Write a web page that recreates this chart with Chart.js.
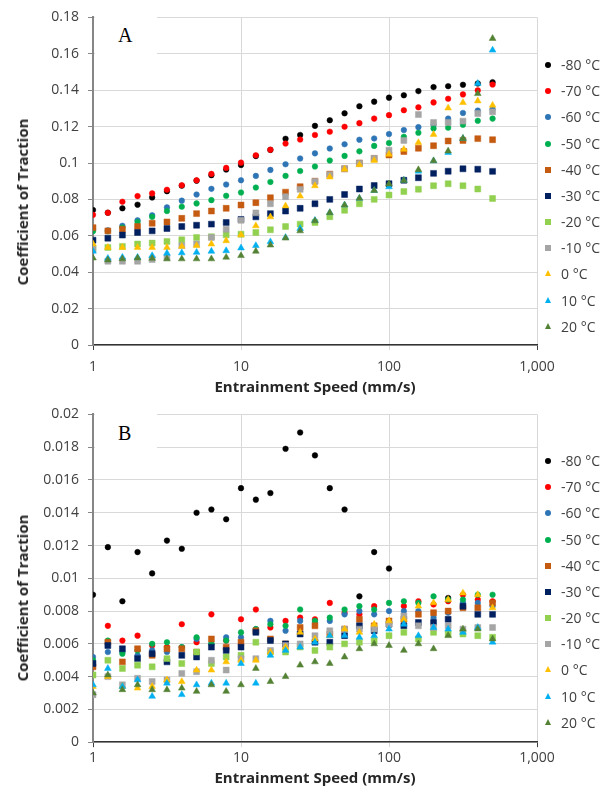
<!DOCTYPE html>
<html>
<head>
<meta charset="utf-8">
<script src="https://cdn.jsdelivr.net/npm/chart.js@4.4.1/dist/chart.umd.min.js"></script>
<style>
    body { margin: 0; background: #fff; font-family: 'Open Sans', sans-serif; }
    .panel { position: absolute; left: 0; width: 612px; height: 397px; }
    .panel canvas { position: absolute; left: 0; top: 0; }
    .tag { position: absolute; left: 95px; top: 3px; width: 62px; height: 52px; background: #fff; }
    .tag span { position: absolute; left: 23px; font-family: 'Liberation Serif', serif; font-size: 20px; line-height: 20px; color: #000; }
    .ytitle { position: absolute; left: 22px; font-size: 15px; font-weight: bold; line-height: 18px; color: #262626;
              white-space: nowrap; transform: translate(-50%, -50%) rotate(-90deg); }
    .legend-row { position: absolute; left: 540px; height: 18px; width: 72px; }
    .legend-row .mk { position: absolute; top: 6px; left: 5px; }
    .legend-row .txt { position: absolute; left: 21px; top: 0; font-size: 14px; line-height: 18px; color: #404040; white-space: nowrap; }
</style>
</head>
<body>
<div class="panel" id="panelA" style="top:0">
    <canvas id="chartA" width="612" height="397"></canvas>
    <div class="tag"><span style="top:22px">A</span></div>
    <div class="ytitle" style="top:202px">Coefficient of Traction</div>
</div>
<div class="panel" id="panelB" style="top:397px">
    <canvas id="chartB" width="612" height="397"></canvas>
    <div class="tag"><span style="top:23px">B</span></div>
    <div class="ytitle" style="top:201px">Coefficient of Traction</div>
</div>
<script>
// entrainment speed, mm/s
const speeds = [1, 1.26, 1.58, 2, 2.51, 3.16, 3.98, 5.01, 6.31, 7.94,
    10, 12.6, 15.8, 20, 25.1, 31.6, 39.8, 50.1, 63.1, 79.4,
    100, 126, 158, 200, 251, 316, 398, 501];

const seriesNames = ['-80 °C', '-70 °C', '-60 °C', '-50 °C', '-40 °C', '-30 °C',
    '-20 °C', '-10 °C', '0 °C', '10 °C', '20 °C'];

const xTicks = [1, 10, 100, 1000];
const yTicksA = [0, 0.02, 0.04, 0.06, 0.08, 0.1, 0.12, 0.14, 0.16, 0.18];
const yTicksB = [0, 0.002, 0.004, 0.006, 0.008, 0.01, 0.012, 0.014, 0.016, 0.018, 0.02];

// panel A
const cofA_m80 = [0.0742, 0.0727, 0.0751, 0.0771, 0.0811, 0.0845, 0.0875, 0.0903, 0.0933, 0.0964, 0.0989, 0.1038, 0.1072, 0.1133, 0.1154, 0.1204, 0.1235, 0.1273, 0.1312, 0.1337, 0.1359, 0.1372, 0.1395, 0.1417, 0.1422, 0.1430, 0.1437, 0.1444];
const cofA_m70 = [0.0715, 0.0727, 0.0787, 0.0818, 0.0833, 0.0853, 0.0878, 0.0905, 0.0940, 0.0973, 0.1002, 0.1042, 0.1073, 0.1107, 0.1129, 0.1154, 0.1172, 0.1199, 0.1219, 0.1244, 0.1263, 0.1290, 0.1306, 0.1333, 0.1353, 0.1377, 0.1399, 0.1431];
const cofA_m60 = [0.0635, 0.0630, 0.0655, 0.0685, 0.0713, 0.0756, 0.0793, 0.0827, 0.0858, 0.0882, 0.0905, 0.0929, 0.0962, 0.0993, 0.1025, 0.1053, 0.1080, 0.1103, 0.1128, 0.1135, 0.1159, 0.1181, 0.1197, 0.1210, 0.1244, 0.1275, 0.1288, 0.1295];
const cofA_m50 = [0.0625, 0.0625, 0.0645, 0.0676, 0.0704, 0.0736, 0.0760, 0.0778, 0.0796, 0.0820, 0.0838, 0.0865, 0.0896, 0.0929, 0.0956, 0.0981, 0.1014, 0.1039, 0.1064, 0.1094, 0.1110, 0.1144, 0.1166, 0.1190, 0.1194, 0.1210, 0.1232, 0.1244];
const cofA_m40 = [0.0645, 0.0627, 0.0636, 0.0651, 0.0669, 0.0676, 0.0696, 0.0722, 0.0736, 0.0751, 0.0769, 0.0782, 0.0809, 0.0840, 0.0870, 0.0900, 0.0939, 0.0968, 0.1000, 0.1025, 0.1044, 0.1063, 0.1081, 0.1095, 0.1121, 0.1124, 0.1134, 0.1128];
const cofA_m30 = [0.0576, 0.0587, 0.0604, 0.0618, 0.0627, 0.0640, 0.0651, 0.0658, 0.0664, 0.0673, 0.0690, 0.0704, 0.0722, 0.0736, 0.0751, 0.0776, 0.0800, 0.0827, 0.0857, 0.0876, 0.0886, 0.0905, 0.0919, 0.0943, 0.0955, 0.0968, 0.0966, 0.0954];
const cofA_m20 = [0.0530, 0.0536, 0.0542, 0.0555, 0.0560, 0.0569, 0.0578, 0.0591, 0.0595, 0.0605, 0.0609, 0.0618, 0.0633, 0.0651, 0.0664, 0.0673, 0.0705, 0.0740, 0.0776, 0.0800, 0.0824, 0.0843, 0.0856, 0.0875, 0.0886, 0.0875, 0.0857, 0.0805];
const cofA_m10 = [0.0527, 0.0460, 0.0460, 0.0460, 0.0470, 0.0480, 0.0546, 0.0555, 0.0591, 0.0636, 0.0685, 0.0726, 0.0776, 0.0815, 0.0855, 0.0899, 0.0935, 0.0968, 0.0999, 0.1026, 0.1070, 0.1124, 0.1266, 0.1223, 0.1223, 0.1230, 0.1272, 0.1281];
const cofA_0 = [0.0555, 0.0536, 0.0536, 0.0536, 0.0536, 0.0536, 0.0542, 0.0546, 0.0555, 0.0573, 0.0605, 0.0655, 0.0704, 0.0764, 0.0818, 0.0875, 0.0923, 0.0966, 0.0990, 0.1014, 0.1048, 0.1075, 0.1112, 0.1157, 0.1302, 0.1332, 0.1341, 0.1317];
const cofA_10 = [0.0515, 0.0476, 0.0482, 0.0482, 0.0491, 0.0504, 0.0506, 0.0509, 0.0515, 0.0518, 0.0533, 0.0546, 0.0567, 0.0591, 0.0640, 0.0685, 0.0727, 0.0769, 0.0806, 0.0849, 0.0869, 0.0905, 0.0955, 0.1012, 0.1057, 0.1135, 0.1437, 0.1620];
const cofA_20 = [0.0478, 0.0467, 0.0473, 0.0478, 0.0476, 0.0473, 0.0473, 0.0473, 0.0473, 0.0482, 0.0491, 0.0515, 0.0549, 0.0587, 0.0627, 0.0682, 0.0727, 0.0769, 0.0806, 0.0849, 0.0885, 0.0904, 0.0963, 0.1012, 0.1066, 0.1135, 0.1381, 0.1684];

// panel B
const cofB_m80 = [0.0090, 0.0119, 0.0086, 0.0116, 0.0103, 0.0123, 0.0118, 0.0140, 0.0142, 0.0136, 0.0155, 0.0148, 0.0152, 0.0179, 0.0189, 0.0175, 0.0155, 0.0142, 0.0089, 0.0116, 0.0106, null, null, null, 0.0088, null, null, null];
const cofB_m70 = [null, 0.0071, 0.0062, 0.0065, 0.0059, 0.0058, 0.0072, 0.0061, 0.0078, 0.0062, 0.0075, 0.0081, 0.0070, 0.0074, 0.0076, 0.0075, 0.0085, 0.0079, 0.0078, 0.0083, null, 0.0083, 0.0086, 0.0084, 0.0086, 0.0090, 0.0087, 0.0086];
const cofB_m60 = [0.0052, 0.0055, 0.0055, 0.0053, 0.0056, 0.0055, 0.0058, 0.0063, 0.0060, 0.0064, 0.0064, 0.0069, 0.0074, 0.0068, 0.0074, 0.0073, 0.0074, 0.0078, 0.0080, 0.0078, 0.0080, 0.0080, 0.0080, 0.0076, 0.0079, 0.0085, 0.0085, 0.0083];
const cofB_m50 = [0.0050, 0.0062, 0.0054, 0.0056, 0.0060, 0.0061, 0.0058, 0.0064, 0.0060, 0.0062, 0.0067, 0.0069, 0.0072, 0.0071, 0.0081, 0.0074, 0.0076, 0.0081, 0.0083, 0.0081, 0.0085, 0.0086, 0.0085, 0.0089, 0.0087, 0.0087, 0.0090, 0.0090];
const cofB_m40 = [0.0046, 0.0061, 0.0049, 0.0057, 0.0053, 0.0057, 0.0057, 0.0055, 0.0063, 0.0058, 0.0061, 0.0068, 0.0063, 0.0060, 0.0070, 0.0071, 0.0066, 0.0069, 0.0075, 0.0071, 0.0074, 0.0075, 0.0078, 0.0079, 0.0080, 0.0082, 0.0082, 0.0085];
const cofB_m30 = [0.0048, 0.0059, 0.0057, 0.0051, 0.0054, 0.0049, 0.0053, 0.0052, 0.0058, 0.0056, 0.0058, 0.0067, 0.0062, 0.0060, 0.0066, 0.0061, 0.0061, 0.0065, 0.0071, 0.0068, 0.0072, 0.0071, 0.0073, 0.0073, 0.0075, 0.0083, 0.0078, 0.0078];
const cofB_m20 = [0.0041, 0.0050, 0.0045, 0.0047, 0.0046, 0.0051, 0.0048, 0.0055, 0.0048, 0.0052, 0.0053, 0.0061, 0.0055, 0.0055, 0.0058, 0.0056, 0.0058, 0.0060, 0.0061, 0.0062, 0.0065, 0.0067, 0.0063, 0.0067, 0.0066, 0.0066, 0.0065, 0.0064];
const cofB_m10 = [0.0029, 0.0040, 0.0035, 0.0039, 0.0037, 0.0038, 0.0042, 0.0043, 0.0050, 0.0044, 0.0051, 0.0051, 0.0056, 0.0059, 0.0060, 0.0065, 0.0068, 0.0069, 0.0069, 0.0069, 0.0072, 0.0077, 0.0071, 0.0070, 0.0071, 0.0069, 0.0070, 0.0070];
const cofB_0 = [0.0034, 0.0040, 0.0034, 0.0033, 0.0034, 0.0038, 0.0037, 0.0044, 0.0044, 0.0049, 0.0050, 0.0050, 0.0055, 0.0058, 0.0067, 0.0063, 0.0065, 0.0069, 0.0067, 0.0072, 0.0074, 0.0075, 0.0083, 0.0085, 0.0087, 0.0091, 0.0090, 0.0082];
const cofB_10 = [0.0035, 0.0045, 0.0034, 0.0038, 0.0028, 0.0036, 0.0029, 0.0035, 0.0036, 0.0036, 0.0048, 0.0036, 0.0053, 0.0056, 0.0058, 0.0061, 0.0065, 0.0065, 0.0064, 0.0065, 0.0069, 0.0072, 0.0065, 0.0070, 0.0069, 0.0067, 0.0070, 0.0061];
const cofB_20 = [0.0030, 0.0041, 0.0032, 0.0035, 0.0032, 0.0032, 0.0033, 0.0031, 0.0035, 0.0031, 0.0035, 0.0045, 0.0037, 0.0040, 0.0047, 0.0049, 0.0048, 0.0052, 0.0057, 0.0060, 0.0059, 0.0056, 0.0060, 0.0057, 0.0065, 0.0069, 0.0069, 0.0063];

const seriesA = [cofA_m80, cofA_m70, cofA_m60, cofA_m50, cofA_m40, cofA_m30, cofA_m20, cofA_m10, cofA_0, cofA_10, cofA_20];
const seriesB = [cofB_m80, cofB_m70, cofB_m60, cofB_m50, cofB_m40, cofB_m30, cofB_m20, cofB_m10, cofB_0, cofB_10, cofB_20];

const colors = ['#000000', '#FF0000', '#2E75B6', '#00B050', '#C55A11', '#002060',
    '#92D050', '#A5A5A5', '#FFC000', '#00B0F0', '#548235'];
const shapes = ['circle', 'circle', 'circle', 'circle', 'rect', 'rect', 'rect', 'rect',
    'triangle', 'triangle', 'triangle'];
const radius = { circle: 2.8, rect: 4.2, triangle: 3.9 };

const textColor = '#404040';
const gridColor = '#d9d9d9';

function makeChart(canvasId, series, yTicks, digits, top, bottom, labelPad, titlePad) {
    const H = 397;
    const ctx = document.getElementById(canvasId).getContext('2d');
    return new Chart(ctx, {
        type: 'scatter',
        data: {
            datasets: series.map((vals, i) => ({
                label: seriesNames[i],
                data: speeds.map((s, k) => ({ x: s, y: vals[k] })).filter(p => p.y !== null),
                pointStyle: shapes[i],
                pointRadius: radius[shapes[i]],
                backgroundColor: colors[i],
                borderColor: colors[i],
                borderWidth: 0.5,
                order: series.length - i   // later series drawn on top, as in the original
            }))
        },
        options: {
            responsive: false,
            animation: false,
            layout: { padding: { left: 0, right: 75, top: top, bottom: 0 } },
            plugins: { legend: { display: false }, tooltip: { enabled: false } },
            scales: {
                x: {
                    type: 'logarithmic',
                    min: 1,
                    max: 1000,
                    afterBuildTicks: s => { s.ticks = xTicks.map(v => ({ value: v })); },
                    afterFit: s => { s.height = H - bottom; },
                    ticks: {
                        color: textColor,
                        font: { family: 'Open Sans', size: 14 },
                        padding: labelPad,
                        maxRotation: 0,
                        autoSkip: false,
                        callback: v => Number(v).toLocaleString('en-US')
                    },
                    grid: {
                        color: gridColor,
                        tickLength: 5,
                        tickColor: c => (c.tick && (c.tick.value === 1 || c.tick.value === 1000)) ? '#404040' : gridColor
                    },
                    border: { color: '#333333', width: 1.5 },
                    title: {
                        display: true,
                        text: 'Entrainment Speed (mm/s)',
                        color: '#262626',
                        font: { family: 'Open Sans', size: 15, weight: 'bold' },
                        padding: { top: 0, bottom: titlePad }
                    }
                },
                y: {
                    min: 0,
                    max: yTicks[yTicks.length - 1],
                    afterBuildTicks: s => { s.ticks = yTicks.map(v => ({ value: v })); },
                    afterFit: s => { s.width = 93; },
                    ticks: {
                        color: textColor,
                        font: { family: 'Open Sans', size: 14 },
                        padding: 9,
                        callback: v => String(Number(Number(v).toFixed(digits)))
                    },
                    grid: { color: gridColor, tickLength: 5, tickColor: '#868686' },
                    border: { color: '#868686', width: 2 },
                    title: { display: false }
                }
            }
        }
    });
}

function makeLegend(panelId, firstCenter) {
    const panel = document.getElementById(panelId);
    seriesNames.forEach((name, i) => {
        const row = document.createElement('div');
        row.className = 'legend-row';
        row.style.top = (firstCenter + i * 26.17 - 9) + 'px';
        const mk = document.createElement('span');
        mk.className = 'mk';
        if (shapes[i] === 'triangle') {
            mk.style.cssText = 'width:0;height:0;top:5px;border-left:3.5px solid transparent;border-right:3.5px solid transparent;border-bottom:6px solid ' + colors[i];
        } else {
            mk.style.width = '6px';
            mk.style.height = '6px';
            mk.style.background = colors[i];
            if (shapes[i] === 'circle') mk.style.borderRadius = '50%';
        }
        const txt = document.createElement('span');
        txt.className = 'txt';
        txt.textContent = name;
        row.appendChild(mk);
        row.appendChild(txt);
        panel.appendChild(row);
    });
}

makeChart('chartA', seriesA, yTicksA, 2, 15, 345, 9, 0);
makeChart('chartB', seriesB, yTicksB, 3, 13.7, 345.2, 2, 6);
makeLegend('panelA', 65);
makeLegend('panelB', 64);
</script>
</body>
</html>
